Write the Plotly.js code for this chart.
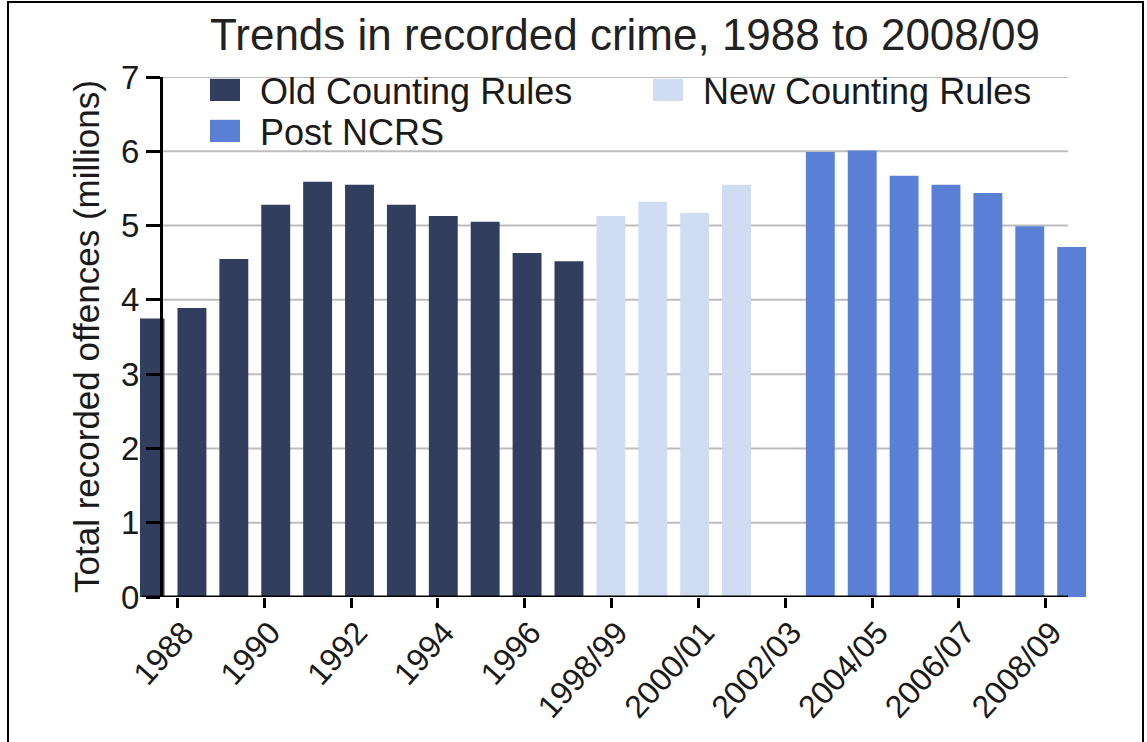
<!DOCTYPE html>
<html>
<head>
<meta charset="utf-8">
<script src="https://cdn.plot.ly/plotly-3.0.1.min.js"></script>
<style>
  html, body { margin: 0; padding: 0; background: #fff; }
  #wrap { position: relative; width: 1147px; height: 742px; overflow: hidden; }
  #chart { width: 1147px; height: 742px; }
  #frame { position: absolute; left: 7px; top: 1px; width: 1133px; height: 760px;
           border: 2px solid #000; pointer-events: none; }
  /* larger legend swatches */
  g.legendpoints { transform-origin: 35px 0px; transform: scale(2.5, 1.85); }
</style>
</head>
<body>
<div id="wrap">
  <div id="chart"></div>
  <div id="frame"></div>
</div>
<script>
// Recorded offences (millions), England and Wales
const oldYears = ['1988', '1989', '1990', '1991', '1992', '1993', '1994', '1995', '1996', '1997', '1997/98'];
const oldValues = [3.75, 3.89, 4.55, 5.28, 5.59, 5.55, 5.28, 5.13, 5.05, 4.63, 4.52];

const newYears = ['1998/99', '1999/00', '2000/01', '2001/02'];
const newValues = [5.13, 5.32, 5.17, 5.55];

// empty slot marking the switch to the National Crime Recording Standard
const seriesBreak = ['break'];

const ncrsYears = ['2002/03', '2003/04', '2004/05', '2005/06', '2006/07', '2007/08', '2008/09'];
const ncrsValues = [5.99, 6.01, 5.67, 5.55, 5.44, 4.99, 4.71];

// year labels along the bottom axis
const labelYears = ['1988', '1989', '1990', '1991', '1992', '1993', '1994', '1995', '1996', '1997',
  '1998/99', '1999/00', '2000/01', '2001/02', '2002/03', '2003/04', '2004/05', '2005/06',
  '2006/07', '2007/08', '2008/09'];
const shownLabels = labelYears.filter((_, i) => i % 2 === 0);

const yTicks = [0, 1, 2, 3, 4, 5, 6, 7];

const FONT = 'Liberation Sans, Arial, Helvetica, sans-serif';
const TEXT = '#1a1a1a';

const slots = [...oldYears, ...newYears, ...seriesBreak, ...ncrsYears];

const traces = [
  {
    type: 'bar', name: 'Old Counting Rules', x: oldYears, y: oldValues,
    marker: { color: '#323e5e' }, legend: 'legend', hoverinfo: 'x+y'
  },
  {
    type: 'bar', name: 'New Counting Rules', x: newYears, y: newValues,
    marker: { color: '#cfdcf2' }, legend: 'legend2', hoverinfo: 'x+y'
  },
  {
    type: 'bar', name: 'Post NCRS', x: ncrsYears, y: ncrsValues,
    marker: { color: '#5a80d6' }, legend: 'legend3', hoverinfo: 'x+y'
  },
  {
    // carries the year categories of the labelled axis
    type: 'scatter', mode: 'markers', x: labelYears, y: labelYears.map(() => null),
    xaxis: 'x2', yaxis: 'y', showlegend: false, hoverinfo: 'skip'
  }
];

const W = 1147, H = 742;
const plotL = 140, plotR = 1088, plotT = 77, plotB = 597;
const px = p => (p - plotL) / (plotR - plotL);
const py = p => (plotB - p) / (plotB - plotT);
const yAxisPos = px(161);
const axisEnd = px(1068);

const shapes = yTicks.filter(v => v > 0).map(v => ({
  type: 'line', xref: 'paper', yref: 'y', x0: yAxisPos, x1: axisEnd, y0: v, y1: v,
  line: { color: '#bdbdbd', width: 2 }, layer: 'below'
}));
shapes.push({
  type: 'line', xref: 'paper', yref: 'y', x0: px(142), x1: axisEnd, y0: 0, y1: 0,
  line: { color: '#000', width: 3 }, layer: 'above'
});

const legendBase = {
  xanchor: 'left', yanchor: 'top', orientation: 'v',
  bgcolor: 'rgba(0,0,0,0)', borderwidth: 0, itemwidth: 60,
  font: { family: FONT, size: 36, color: TEXT }
};

const layout = {
  width: W, height: H,
  margin: { l: plotL, r: W - plotR, t: plotT, b: H - plotB, pad: 0, autoexpand: false },
  paper_bgcolor: '#fff', plot_bgcolor: 'rgba(0,0,0,0)',
  font: { family: FONT, color: TEXT },
  barmode: 'overlay',
  bargap: 0.31,
  title: {
    text: 'Trends in recorded crime, 1988 to 2008/09',
    font: { family: FONT, size: 44, color: '#222' },
    xref: 'container', yref: 'container',
    x: 625 / W, xanchor: 'center', y: 1 - 35 / H, yanchor: 'middle'
  },
  xaxis: {
    type: 'category', categoryorder: 'array', categoryarray: slots,
    range: [-0.24, 22.39], showticklabels: false, ticks: '',
    showline: false, showgrid: false, zeroline: false, fixedrange: true
  },
  xaxis2: {
    type: 'category', overlaying: 'x', anchor: 'y', side: 'bottom',
    categoryorder: 'array', categoryarray: labelYears,
    range: [-0.866, 20.977],
    tickmode: 'array', tickvals: shownLabels, ticktext: shownLabels,
    ticks: 'outside', ticklen: 10, tickwidth: 3, tickcolor: '#000',
    tickangle: -48, ticklabelstandoff: -7, ticklabelshift: 6,
    tickfont: { family: FONT, size: 32, color: TEXT },
    showline: false, showgrid: false, zeroline: false, fixedrange: true
  },
  yaxis: {
    range: [0, 7], anchor: 'free', position: yAxisPos,
    tickmode: 'array', tickvals: yTicks,
    ticks: 'outside', ticklen: 14, tickwidth: 3, tickcolor: '#000',
    tickfont: { family: FONT, size: 33, color: TEXT },
    showline: true, linewidth: 3, linecolor: '#000',
    showgrid: false, zeroline: false, fixedrange: true
  },
  annotations: [{
    text: 'Total recorded offences (millions)', textangle: -90,
    xref: 'paper', yref: 'paper', x: px(86), y: 0.5,
    xanchor: 'center', yanchor: 'middle', showarrow: false,
    font: { family: FONT, size: 35, color: TEXT }
  }],
  shapes: shapes,
  legend: Object.assign({}, legendBase, { x: px(190), y: py(60) }),
  legend2: Object.assign({}, legendBase, { x: px(633), y: py(60) }),
  legend3: Object.assign({}, legendBase, { x: px(190), y: py(101) }),
  showlegend: true
};

Plotly.newPlot('chart', traces, layout, { displayModeBar: false, staticPlot: true });
</script>
</body>
</html>
